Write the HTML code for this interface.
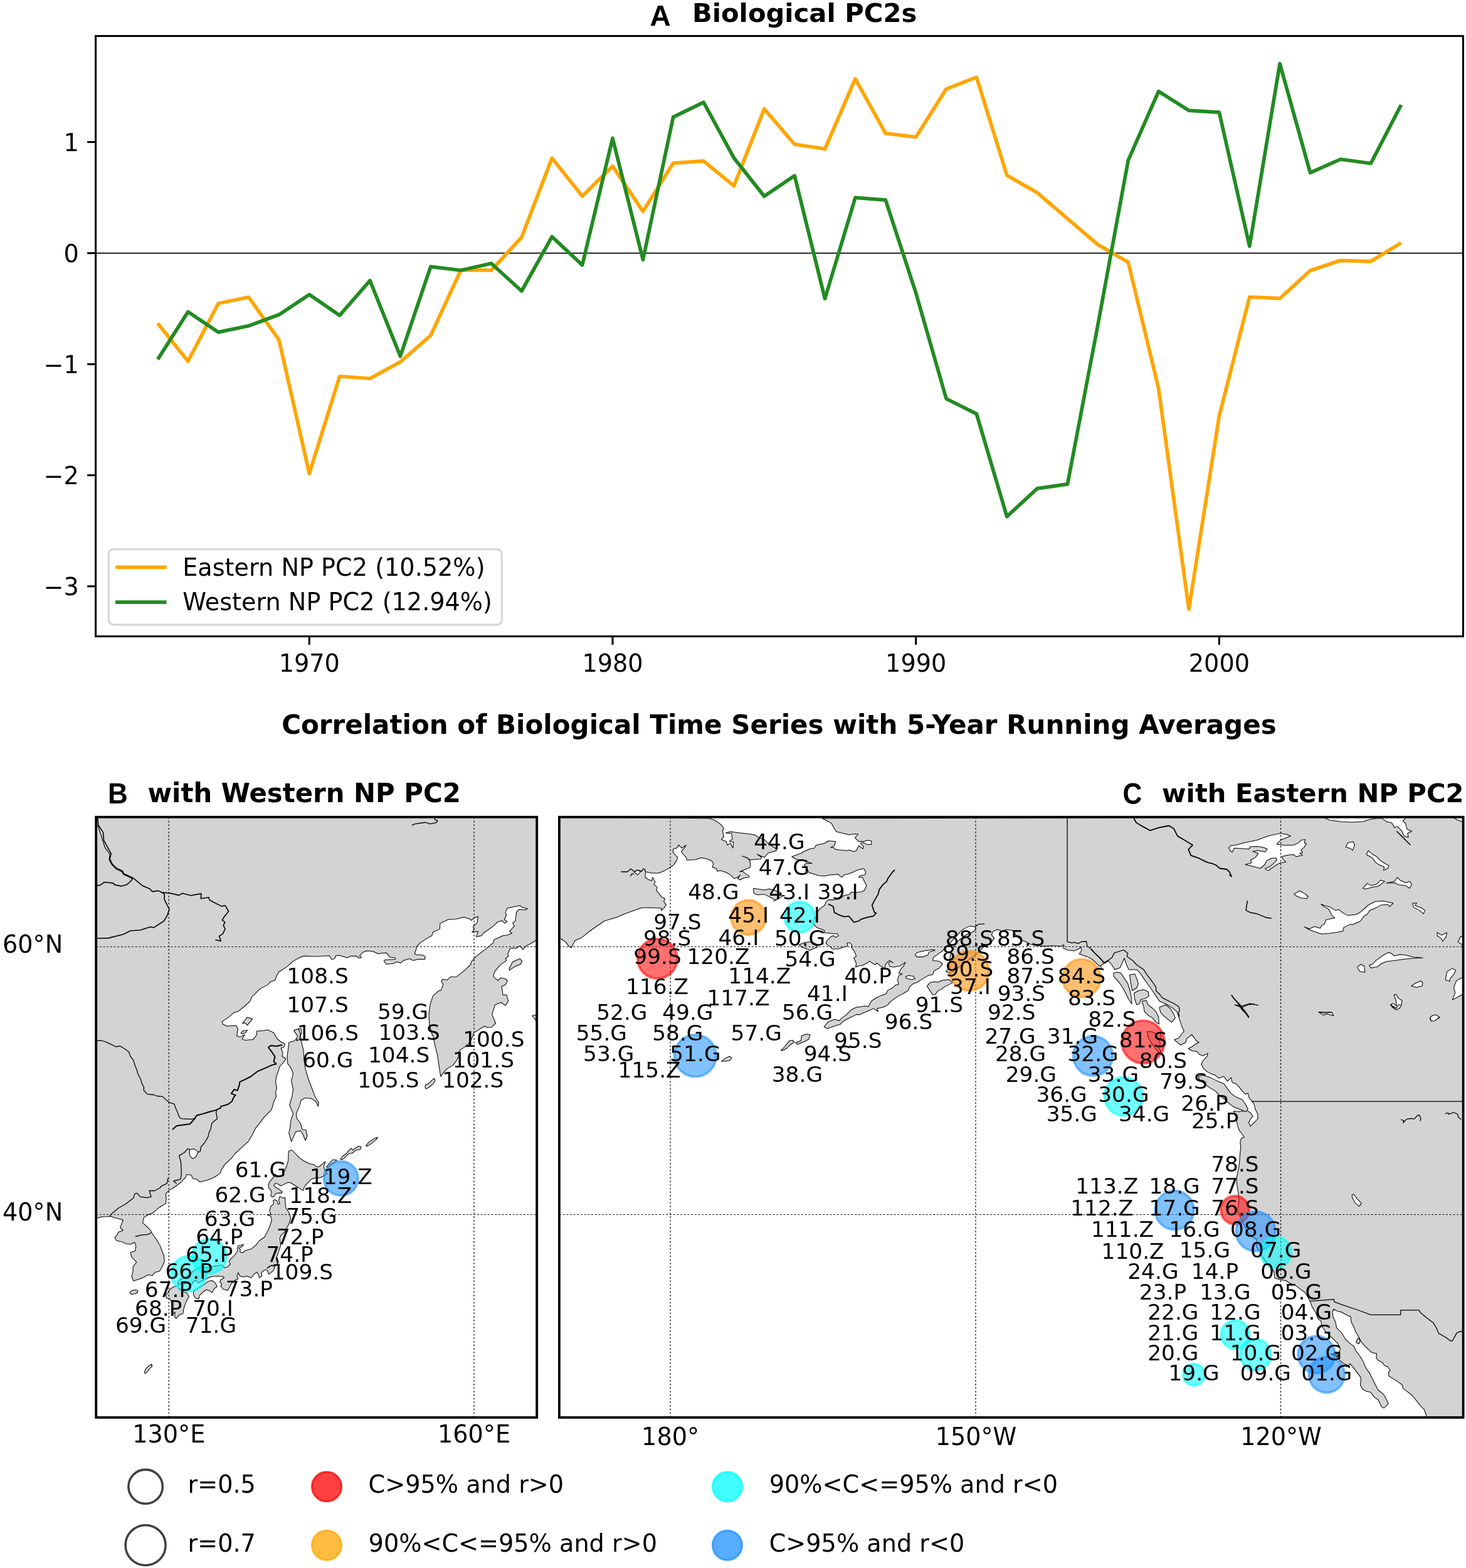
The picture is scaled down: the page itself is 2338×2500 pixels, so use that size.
<!DOCTYPE html>
<html lang="en"><head><meta charset="utf-8"><title>Biological PC2s</title>
<style>html,body{margin:0;padding:0;background:#fff}svg{display:block}</style></head>
<body>
<svg xmlns="http://www.w3.org/2000/svg" width="2338" height="2500" viewBox="0 0 2338 2500">
<rect x="0" y="0" width="2338" height="2500" fill="#ffffff"/>
<g font-family='&quot;DejaVu Sans&quot;, &quot;Liberation Sans&quot;, sans-serif' fill="#000">
<line x1="152.6" y1="403.6" x2="2333.4" y2="403.6" stroke="#000" stroke-width="1.9"/>
<path d="M251.5 515.5 L299.8 576.0 L348.2 483.8 L396.6 473.8 L444.9 541.9 L493.3 755.0 L541.7 600.0 L590.0 603.5 L638.4 577.1 L686.8 534.9 L735.1 430.3 L783.5 431.0 L831.9 378.2 L880.3 252.1 L928.6 312.8 L977.0 265.0 L1025.4 337.0 L1073.7 260.1 L1122.1 256.7 L1170.5 296.4 L1218.8 173.6 L1267.2 230.0 L1315.6 237.5 L1364.0 125.6 L1412.3 212.6 L1460.7 218.5 L1509.1 141.9 L1557.4 123.1 L1605.8 279.4 L1654.2 307.3 L1702.5 348.6 L1750.9 390.0 L1799.3 418.1 L1847.7 619.4 L1896.0 971.2 L1944.4 663.3 L1992.8 473.5 L2041.1 475.8 L2089.5 431.5 L2137.9 415.3 L2186.2 416.8 L2234.6 387.1" fill="none" stroke="#ffa500" stroke-width="5.73" stroke-linejoin="round" stroke-linecap="butt"/>
<path d="M251.5 573.0 L299.8 497.2 L348.2 529.6 L396.6 519.5 L444.9 501.8 L493.3 469.7 L541.7 502.8 L590.0 447.3 L638.4 568.0 L686.8 425.2 L735.1 431.0 L783.5 420.0 L831.9 464.0 L880.3 377.3 L928.6 422.6 L977.0 220.4 L1025.4 414.0 L1073.7 186.7 L1122.1 163.2 L1170.5 251.9 L1218.8 312.9 L1267.2 280.2 L1315.6 476.2 L1364.0 315.2 L1412.3 318.8 L1460.7 467.2 L1509.1 635.7 L1557.4 659.9 L1605.8 823.6 L1654.2 778.8 L1702.5 771.8 L1750.9 518.0 L1799.3 255.6 L1847.7 145.6 L1896.0 176.2 L1944.4 179.1 L1992.8 392.5 L2041.1 101.5 L2089.5 275.3 L2137.9 254.0 L2186.2 260.5 L2234.6 167.3" fill="none" stroke="#228b22" stroke-width="5.73" stroke-linejoin="round" stroke-linecap="butt"/>
<rect x="173.3" y="875.8" width="627" height="120.3" rx="7.6" ry="7.6" fill="#fff" fill-opacity="0.8" stroke="#cccccc" stroke-opacity="0.8" stroke-width="3.06"/>
<line x1="184.1" y1="904.4" x2="265.6" y2="904.4" stroke="#ffa500" stroke-width="5.73"/>
<line x1="184.1" y1="960.2" x2="265.6" y2="960.2" stroke="#228b22" stroke-width="5.73"/>
<text x="291.2" y="917.6" font-size="38.19">Eastern NP PC2 (10.52%)</text>
<text x="291.2" y="973.4" font-size="38.19">Western NP PC2 (12.94%)</text>
<rect x="152.6" y="57.4" width="2180.8" height="957.2" fill="none" stroke="#000" stroke-width="3.06"/>
<line x1="493.3" y1="1014.6" x2="493.3" y2="1028.0" stroke="#000" stroke-width="3.06"/>
<text x="493.3" y="1070.5" font-size="38.19" text-anchor="middle">1970</text>
<line x1="977.0" y1="1014.6" x2="977.0" y2="1028.0" stroke="#000" stroke-width="3.06"/>
<text x="977.0" y="1070.5" font-size="38.19" text-anchor="middle">1980</text>
<line x1="1460.7" y1="1014.6" x2="1460.7" y2="1028.0" stroke="#000" stroke-width="3.06"/>
<text x="1460.7" y="1070.5" font-size="38.19" text-anchor="middle">1990</text>
<line x1="1944.4" y1="1014.6" x2="1944.4" y2="1028.0" stroke="#000" stroke-width="3.06"/>
<text x="1944.4" y="1070.5" font-size="38.19" text-anchor="middle">2000</text>
<line x1="139.2" y1="226.5" x2="152.6" y2="226.5" stroke="#000" stroke-width="3.06"/>
<text x="125.9" y="241.0" font-size="38.19" text-anchor="end">1</text>
<line x1="139.2" y1="403.6" x2="152.6" y2="403.6" stroke="#000" stroke-width="3.06"/>
<text x="125.9" y="418.1" font-size="38.19" text-anchor="end">0</text>
<line x1="139.2" y1="580.7" x2="152.6" y2="580.7" stroke="#000" stroke-width="3.06"/>
<text x="125.9" y="595.2" font-size="38.19" text-anchor="end">−1</text>
<line x1="139.2" y1="757.7" x2="152.6" y2="757.7" stroke="#000" stroke-width="3.06"/>
<text x="125.9" y="772.2" font-size="38.19" text-anchor="end">−2</text>
<line x1="139.2" y1="934.8" x2="152.6" y2="934.8" stroke="#000" stroke-width="3.06"/>
<text x="125.9" y="949.3" font-size="38.19" text-anchor="end">−3</text>
<text transform="translate(1036.6,40.7) scale(1.0,1)" font-family="&quot;Liberation Sans&quot;, &quot;DejaVu Sans&quot;, sans-serif" font-size="46" font-weight="bold">A</text>
<text x="1103.9" y="34.9" font-size="41.7" font-weight="bold">Biological PC2s</text>
<text x="1242.4" y="1170.3" font-size="42" font-weight="bold" text-anchor="middle">Correlation of Biological Time Series with 5-Year Running Averages</text>
<text transform="translate(172.1,1280.8) scale(0.957,1)" font-family="&quot;Liberation Sans&quot;, &quot;DejaVu Sans&quot;, sans-serif" font-size="46" font-weight="bold">B</text>
<text x="235.4" y="1279.3" font-size="41.85" font-weight="bold">with Western NP PC2</text>
<text transform="translate(1790.6,1281.6) scale(0.89,1)" font-family="&quot;Liberation Sans&quot;, &quot;DejaVu Sans&quot;, sans-serif" font-size="48" font-weight="bold">C</text>
<text x="2334.5" y="1279.3" font-size="41.7" font-weight="bold" text-anchor="end">with Eastern NP PC2</text>
<clipPath id="cpB"><rect x="153.2" y="1302.7" width="703.0" height="957.3"/></clipPath>
<g clip-path="url(#cpB)">
<g fill="#d3d3d3" stroke="#000" stroke-width="1.05" stroke-linejoin="round">
<path d="M153.4 1302.7 L856.2 1302.7 L856.3 1499.5 L854.4 1499.5 L846.6 1504.3 L838.9 1508.2 L834.1 1514.0 L829.2 1508.2 L822.4 1512.0 L813.7 1512.0 L809.8 1520.8 L810.8 1524.6 L806.0 1528.5 L807.9 1531.4 L801.1 1535.9 L794.4 1542.1 L788.5 1549.8 L786.6 1556.6 L790.5 1560.5 L794.4 1563.4 L798.2 1559.1 L806.0 1560.5 L809.5 1563.8 L806.0 1570.1 L800.2 1572.7 L802.1 1586.6 L807.9 1586.2 L810.8 1596.3 L806.0 1603.1 L799.2 1598.2 L789.5 1602.1 L784.7 1617.6 L790.5 1631.5 L783.7 1637.9 L776.9 1638.3 L773.1 1636.0 L755.6 1646.6 L755.6 1647.7 L751.7 1657.4 L745.0 1667.1 L735.3 1672.9 L732.4 1675.8 L731.4 1684.5 L728.5 1690.3 L722.7 1698.1 L713.0 1703.9 L705.3 1712.6 L702.9 1716.5 L701.4 1707.8 L699.5 1694.2 L697.5 1681.6 L693.7 1667.1 L690.7 1651.6 L688.8 1648.6 L684.9 1633.1 L684.0 1617.6 L686.3 1600.2 L690.7 1587.6 L699.5 1579.8 L703.3 1578.9 L706.8 1569.2 L703.7 1564.3 L706.2 1561.4 L713.0 1562.4 L718.8 1557.6 L728.5 1557.2 L740.1 1547.9 L750.8 1537.8 L751.7 1533.4 L759.5 1524.6 L771.1 1515.9 L786.6 1503.3 L787.6 1498.5 L802.1 1491.7 L809.8 1490.7 L816.6 1487.8 L812.7 1484.9 L820.5 1476.2 L817.6 1471.4 L821.9 1468.5 L823.4 1454.9 L827.3 1450.1 L837.9 1450.7 L841.2 1448.7 L833.1 1446.8 L829.2 1443.7 L808.9 1448.1 L806.0 1454.9 L807.5 1458.8 L804.4 1466.2 L808.9 1469.4 L805.0 1472.0 L801.1 1468.1 L794.4 1469.4 L786.6 1476.6 L771.1 1487.8 L768.2 1491.7 L759.5 1493.7 L762.4 1484.9 L752.7 1486.3 L755.6 1483.0 L754.7 1477.2 L761.0 1471.4 L762.4 1461.1 L756.0 1463.6 L751.7 1467.5 L749.8 1465.6 L740.1 1462.3 L726.6 1465.6 L715.0 1466.0 L701.8 1472.4 L701.4 1481.1 L690.7 1486.3 L688.8 1491.7 L680.1 1496.6 L670.4 1502.9 L664.6 1509.1 L663.6 1514.0 L661.1 1520.8 L664.6 1522.3 L674.3 1522.7 L678.2 1525.6 L677.2 1529.5 L666.5 1529.5 L658.8 1531.4 L653.0 1528.5 L643.3 1531.4 L639.4 1535.3 L631.7 1533.4 L627.8 1536.3 L615.8 1537.2 L612.3 1531.4 L614.3 1530.4 L630.7 1529.5 L629.7 1527.0 L622.0 1526.2 L616.2 1519.2 L608.4 1519.8 L603.6 1520.8 L594.9 1516.9 L585.2 1515.9 L579.4 1517.9 L573.6 1523.7 L576.5 1527.0 L572.6 1527.5 L567.8 1524.2 L558.1 1524.6 L554.2 1527.0 L540.7 1523.1 L534.9 1524.2 L533.9 1528.5 L529.0 1529.5 L525.2 1523.7 L511.6 1524.6 L500.0 1525.0 L494.7 1524.6 L484.1 1524.2 L477.3 1527.0 L467.6 1532.4 L457.9 1541.1 L444.4 1549.8 L440.5 1557.6 L438.5 1563.0 L431.8 1564.9 L426.9 1570.1 L414.3 1576.9 L407.6 1583.7 L401.7 1589.5 L398.8 1596.3 L389.2 1605.0 L380.4 1612.2 L372.7 1614.7 L364.0 1622.4 L354.3 1628.6 L355.3 1633.1 L362.0 1636.0 L376.6 1635.0 L379.5 1640.8 L377.5 1651.6 L382.4 1653.6 L390.1 1649.7 L386.3 1656.5 L390.1 1658.4 L403.7 1657.4 L409.5 1649.7 L409.5 1643.9 L421.1 1642.9 L426.9 1641.9 L436.6 1646.8 L442.4 1656.5 L448.2 1661.3 L454.4 1664.2 L453.1 1669.0 L448.2 1671.0 L451.1 1678.7 L450.2 1684.5 L456.0 1688.0 L452.1 1694.2 L446.3 1700.0 L444.4 1705.8 L440.5 1717.5 L439.5 1725.2 L441.4 1734.9 L439.5 1740.7 L440.5 1748.4 L436.6 1756.2 L434.7 1763.9 L432.7 1769.7 L421.1 1781.4 L415.3 1789.1 L407.6 1798.8 L401.7 1810.4 L395.9 1820.1 L384.3 1830.7 L374.6 1839.5 L368.8 1847.2 L359.1 1855.9 L353.3 1864.6 L351.4 1870.4 L341.7 1877.2 L330.1 1881.7 L318.5 1884.4 L313.6 1880.1 L307.8 1879.2 L304.9 1873.4 L298.1 1872.4 L295.2 1878.2 L288.5 1885.0 L283.6 1888.8 L276.8 1893.7 L270.1 1897.6 L264.3 1903.4 L265.2 1911.1 L264.3 1918.9 L254.6 1924.7 L243.0 1934.4 L237.1 1936.3 L229.4 1941.1 L227.5 1949.8 L233.3 1954.7 L240.0 1961.5 L243.0 1967.3 L248.8 1975.0 L255.5 1986.6 L260.4 2000.0 L261.4 2000.7 L262.3 2011.3 L258.4 2020.0 L254.6 2026.8 L246.8 2028.7 L243.0 2033.6 L235.2 2032.6 L229.4 2036.5 L221.7 2039.4 L212.9 2042.3 L210.0 2035.5 L212.0 2027.8 L212.0 2020.0 L217.8 2012.3 L210.0 2004.5 L208.1 1996.8 L215.8 1994.4 L216.8 1986.6 L214.9 1980.8 L208.1 1983.7 L200.3 1982.8 L194.5 1979.9 L185.8 1977.9 L182.9 1973.1 L186.8 1969.2 L188.7 1964.4 L196.5 1961.5 L191.6 1957.6 L194.5 1949.8 L196.5 1945.0 L188.7 1943.1 L181.0 1941.1 L176.1 1939.2 L169.4 1939.8 L161.6 1940.2 L154.8 1942.1 L153.4 1942.0Z"/>
<path d="M477.3 1640.0 L475.3 1645.8 L477.3 1651.6 L469.5 1659.4 L460.8 1662.3 L459.8 1671.0 L457.9 1684.5 L458.9 1696.2 L463.7 1702.0 L467.6 1711.7 L464.7 1723.3 L467.6 1736.8 L465.7 1748.4 L461.8 1762.0 L467.6 1775.6 L463.7 1787.2 L462.7 1796.9 L460.8 1806.5 L464.7 1820.1 L471.5 1804.6 L479.2 1802.7 L483.1 1808.5 L487.0 1818.2 L489.9 1811.4 L487.9 1801.7 L482.1 1800.7 L479.2 1791.0 L473.4 1783.3 L472.4 1775.6 L477.3 1763.9 L480.2 1754.3 L487.0 1750.4 L496.6 1751.4 L504.4 1757.2 L507.3 1763.9 L508.3 1758.1 L502.4 1748.4 L496.6 1733.0 L490.8 1717.5 L487.0 1703.9 L485.0 1690.3 L484.1 1674.9 L481.1 1663.2 L479.2 1651.6 L481.1 1645.8 L480.2 1640.0Z"/>
<path d="M459.9 1840.0 L459.9 1849.7 L457.5 1857.8 L455.0 1864.2 L452.6 1869.9 L449.4 1873.9 L442.9 1874.7 L438.1 1872.3 L436.5 1876.3 L430.0 1884.4 L428.1 1888.4 L428.4 1893.3 L431.6 1897.3 L433.3 1901.3 L431.6 1906.2 L434.1 1908.6 L437.3 1907.0 L439.7 1902.9 L444.6 1902.1 L449.4 1902.1 L450.2 1900.5 L444.6 1895.7 L439.7 1893.3 L436.5 1890.0 L438.9 1886.8 L442.9 1887.6 L447.8 1890.8 L452.6 1888.4 L459.1 1885.2 L463.9 1886.0 L470.4 1890.0 L476.8 1894.1 L483.3 1898.1 L485.7 1891.6 L491.4 1885.2 L496.2 1880.3 L502.6 1877.9 L509.1 1877.9 L513.9 1876.3 L518.8 1873.1 L522.0 1871.5 L518.8 1867.4 L517.2 1863.4 L516.4 1859.4 L518.8 1852.1 L514.7 1855.3 L509.1 1860.2 L504.3 1860.2 L501.0 1856.9 L493.0 1855.3 L484.9 1851.3 L476.8 1845.6 L472.0 1840.0 L465.5 1833.5 L460.7 1835.2Z"/>
<path d="M520.4 1861.0 L525.2 1854.5 L530.9 1848.9 L537.3 1849.7 L534.9 1852.1 L528.5 1856.1 L523.6 1861.0Z"/>
<path d="M543.0 1848.2 L546.5 1843.3 L552.3 1839.5 L555.2 1835.6 L560.0 1830.7 L562.0 1833.7 L567.8 1829.8 L572.6 1827.5 L575.9 1828.8 L574.6 1832.7 L567.8 1833.7 L562.0 1838.5 L556.2 1839.5 L550.3 1845.3 L545.5 1849.1Z"/>
<path d="M583.7 1826.9 L588.1 1821.1 L596.8 1815.3 L602.6 1813.3 L598.8 1818.2 L590.0 1824.9 L585.2 1827.5Z"/>
<path d="M678.2 1730.0 L683.0 1728.1 L688.8 1722.3 L692.7 1719.4 L694.0 1723.3 L690.7 1728.1 L684.9 1733.0 L680.5 1735.9 L678.2 1734.9Z"/>
<path d="M811.8 1545.0 L817.6 1533.4 L829.2 1528.5 L832.7 1532.4 L830.2 1537.2 L819.5 1542.1 L812.7 1546.9Z"/>
<path d="M848.6 1619.5 L854.8 1618.0 L854.8 1627.3 L851.5 1623.0Z"/>
<path d="M386.6 1631.5 L394.4 1621.9 L402.7 1624.4 L394.4 1634.6 L391.1 1631.1Z"/>
<path d="M384.3 1646.6 L387.2 1643.7 L394.4 1642.4 L392.1 1646.6 L385.3 1648.6Z"/>
<path d="M468.6 1642.9 L475.3 1640.0 L479.2 1647.7 L477.3 1657.4 L473.0 1659.4 L474.4 1651.6Z"/>
<path d="M435.7 1914.2 L438.1 1912.6 L442.1 1915.0 L443.3 1919.9 L446.2 1919.1 L444.6 1914.2 L445.4 1908.6 L447.8 1907.8 L451.0 1910.2 L454.6 1909.4 L455.0 1917.5 L455.8 1925.5 L459.1 1930.4 L462.3 1936.8 L463.6 1943.3 L460.7 1951.4 L458.3 1956.2 L452.6 1965.9 L448.6 1969.1 L446.2 1973.9 L447.8 1985.2 L444.6 1994.9 L440.5 2006.2 L442.9 2015.9 L441.4 2003.8 L444.2 2012.2 L441.4 2016.4 L435.8 2017.1 L430.2 2018.5 L426.0 2022.0 L428.8 2020.6 L433.0 2017.1 L438.6 2020.6 L435.8 2026.2 L428.8 2031.7 L426.0 2024.8 L421.8 2024.8 L416.9 2029.0 L417.6 2034.5 L413.4 2037.3 L412.0 2031.7 L409.2 2028.3 L405.0 2031.7 L400.8 2037.3 L393.8 2034.5 L388.3 2035.9 L382.7 2034.5 L379.9 2029.0 L377.8 2034.5 L379.9 2038.7 L374.3 2041.5 L368.7 2047.1 L365.9 2052.7 L363.1 2057.6 L356.1 2055.5 L351.9 2050.6 L354.0 2047.1 L350.5 2044.3 L351.9 2040.8 L357.5 2037.3 L356.1 2035.2 L346.3 2034.5 L337.9 2035.2 L332.3 2037.3 L329.5 2038.7 L322.5 2041.5 L316.9 2045.7 L312.7 2041.5 L308.5 2042.9 L305.7 2048.5 L301.5 2045.7 L295.9 2047.1 L289.0 2045.7 L284.8 2048.5 L283.4 2045.0 L286.2 2040.8 L293.1 2037.3 L300.1 2033.8 L305.7 2029.0 L311.3 2024.1 L318.3 2020.6 L330.9 2020.6 L343.5 2018.5 L354.7 2017.1 L357.5 2021.3 L363.1 2019.9 L367.3 2015.7 L365.2 2010.8 L368.7 2006.6 L374.3 2001.0 L379.2 1994.0 L378.5 1989.8 L379.9 1986.3 L388.3 1984.2 L386.9 1987.0 L381.3 1989.8 L383.4 1991.9 L382.7 1996.1 L386.9 1997.5 L391.0 1994.0 L400.8 1991.2 L407.8 1985.6 L412.0 1980.0 L413.9 1978.0 L422.0 1972.3 L425.2 1965.9 L430.0 1956.2 L433.3 1944.9 L431.6 1938.4 L426.8 1937.6 L431.6 1935.2 L430.0 1930.4 L431.6 1923.9 L436.5 1919.1Z"/>
<path d="M308.5 2059.7 L312.7 2055.5 L319.7 2051.3 L326.7 2047.1 L332.3 2042.9 L337.9 2041.5 L343.5 2045.7 L346.3 2051.3 L342.1 2054.1 L337.9 2061.1 L335.1 2058.3 L329.5 2056.2 L323.9 2059.7 L318.3 2065.3 L316.9 2070.9 L311.3 2069.5 L308.5 2063.9Z"/>
<path d="M270.1 2056.2 L276.4 2052.0 L283.4 2049.9 L286.2 2055.5 L293.1 2059.7 L297.3 2061.1 L301.5 2066.7 L298.7 2072.3 L295.9 2077.9 L293.1 2086.3 L291.7 2094.7 L286.2 2096.1 L280.6 2102.4 L278.5 2098.9 L279.2 2091.9 L275.0 2096.1 L273.6 2089.1 L275.0 2077.9 L270.8 2070.9 L265.2 2069.5 L264.5 2063.9 L268.0 2061.1Z"/>
<path d="M207.1 2060.7 L210.0 2057.8 L215.8 2056.4 L219.7 2057.8 L219.3 2060.7 L214.9 2063.0 L209.1 2063.6Z"/>
<path d="M230.4 2187.5 L232.3 2182.7 L237.1 2177.9 L242.0 2175.3 L242.6 2178.4 L238.1 2182.7 L234.2 2188.1 L231.3 2189.9Z"/>
</g>
<g fill="#ffffff" stroke="#000" stroke-width="1.05" stroke-linejoin="round">
<path d="M303.0 1832.7 L308.8 1831.7 L315.6 1835.6 L314.2 1841.4 L311.7 1845.3 L306.9 1847.2 L303.0 1843.3 L302.0 1836.6Z"/>
</g>
<g fill="none" stroke="#000" stroke-linejoin="round">
<path d="M155.8 1303.9 L156.8 1315.5 L164.5 1327.1 L165.5 1339.7 L171.3 1350.3 L177.1 1361.0 L175.2 1369.7 L179.0 1377.5 L185.8 1384.2 L195.5 1388.7 L197.4 1393.0 L212.0 1399.7 L227.5 1412.3 L239.1 1417.2 L243.0 1421.6 L252.6 1420.1 L258.4 1423.0 L262.3 1425.9 L261.9 1433.6 L270.1 1450.1 L266.2 1460.7 L261.4 1468.5 L244.9 1479.1 L240.0 1477.8 L223.6 1483.0 L208.1 1484.0 L196.5 1489.8 L173.2 1495.6 L154.8 1496.0" stroke-width="1.6"/>
<path d="M155.8 1315.5 L161.6 1332.9 L167.4 1351.3 L175.2 1362.0 L174.2 1370.7 L178.1 1378.4 L184.9 1385.2 L194.5 1390.0 L196.5 1393.9 L211.0 1400.7" stroke-width="1.2"/>
<path d="M154.8 1411.9 L159.7 1411.4 L166.5 1406.5 L181.0 1408.1 L182.0 1410.4 L192.6 1412.9 L202.3 1410.4 L208.1 1405.5 L212.0 1399.7" stroke-width="1.6"/>
<path d="M258.4 1423.0 L270.1 1423.9 L285.6 1427.4 L291.0 1424.3 L304.0 1427.8 L320.8 1424.9 L320.4 1432.7 L333.0 1430.7 L334.0 1434.6 L336.9 1436.5 L353.3 1444.9 L359.1 1443.7 L364.6 1453.0 L361.5 1456.9 L358.2 1460.7 L354.3 1466.9 L358.8 1470.4 L356.2 1475.3 L359.1 1481.1 L355.3 1488.8 L349.5 1492.7 L352.4 1500.4 L343.3 1498.5" stroke-width="1.6"/>
<path d="M656.9 1315.9 L660.7 1313.9 L678.2 1311.2 L685.9 1313.6 L695.6 1311.6 L697.9 1308.7 L693.7 1306.8 L692.7 1304.8" stroke-width="1.4"/>
<path d="M154.8 1659.4 L161.6 1659.0 L169.4 1661.3 L177.1 1665.2 L184.9 1669.0 L191.6 1667.7 L198.4 1672.0 L205.2 1676.8 L208.1 1684.5 L212.9 1690.3 L214.9 1698.1 L218.7 1706.8 L219.7 1711.7 L224.6 1721.3 L226.5 1728.1 L229.4 1733.0 L229.4 1738.8 L235.2 1744.6 L244.9 1745.5 L250.7 1747.5 L259.4 1748.4 L264.3 1753.3 L270.1 1757.7 L277.8 1760.1 L280.1 1766.8 L283.2 1773.6 L285.6 1780.4 L289.4 1783.7 L304.9 1784.3 L309.8 1783.3" stroke-width="1.3"/>
<path d="M274.9 1801.1 L281.7 1794.9 L303.0 1792.0 L310.7 1783.3 L313.6 1778.5 L324.3 1775.6 L332.0 1773.2 L343.7 1770.1 L351.4 1766.8 L352.4 1763.9 L363.0 1761.0 L369.8 1756.2 L372.7 1749.4 L375.6 1746.1 L368.8 1743.6 L373.7 1736.8 L378.5 1738.8 L381.4 1731.0 L382.4 1725.2 L390.1 1721.3 L399.8 1716.5 L411.4 1707.8 L423.1 1702.9 L433.7 1698.1 L440.5 1696.2 L436.6 1692.3 L438.5 1684.5 L431.8 1674.9 L427.9 1670.0 L431.8 1667.1 L440.5 1668.1 L450.2 1666.1" stroke-width="2.0"/>
<path d="M345.6 1770.1 L344.6 1773.6 L346.6 1783.3 L337.8 1791.0 L335.9 1800.7 L333.0 1806.5 L332.0 1812.4 L326.2 1822.0 L320.4 1828.8 L319.4 1835.6 L315.6 1837.5" stroke-width="1.3"/>
<path d="M303.0 1832.7 L299.1 1831.7 L294.3 1837.5 L285.6 1842.4 L288.5 1853.0 L289.4 1872.4 L287.9 1880.1 L276.8 1883.0 L281.7 1886.9" stroke-width="1.3"/>
<path d="M268.1 1878.2 L266.2 1886.9 L256.5 1891.7 L255.5 1893.7 L246.8 1898.5 L238.1 1898.5 L241.0 1908.2 L235.2 1909.6 L223.6 1908.2 L218.7 1902.4 L214.9 1903.4 L212.9 1910.1 L200.3 1919.8 L188.7 1926.2 L177.1 1936.3 L175.2 1939.2" stroke-width="1.3"/>
<path d="M215.8 1971.5 L225.5 1969.2 L236.2 1968.2 L241.0 1965.3" stroke-width="1.3"/>
</g>
<g stroke="#000" stroke-width="1.15" stroke-dasharray="2.84 2.84" fill="none">
<line x1="269.3" y1="2260.0" x2="269.3" y2="1302.7"/>
<line x1="756.0" y1="2260.0" x2="756.0" y2="1302.7"/>
<line x1="153.2" y1="1509.5" x2="856.2" y2="1509.5"/>
<line x1="153.2" y1="1936.5" x2="856.2" y2="1936.5"/>
</g>
<circle cx="543.8" cy="1878.8" r="27.4" fill="#1e90ff" fill-opacity="0.56" stroke="#1e90ff" stroke-opacity="0.56" stroke-width="3.8"/>
<circle cx="333.8" cy="2003.2" r="27.6" fill="#00ffff" fill-opacity="0.56" stroke="#00ffff" stroke-opacity="0.56" stroke-width="3.8"/>
<circle cx="301.2" cy="2030.7" r="28.1" fill="#00ffff" fill-opacity="0.56" stroke="#00ffff" stroke-opacity="0.56" stroke-width="3.8"/>
</g>
<g font-size="34.375" text-anchor="middle">
<text x="642.6" y="1624.7">59.G</text>
<text x="522.8" y="1702.4">60.G</text>
<text x="415.4" y="1877.3">61.G</text>
<text x="383.1" y="1917.1">62.G</text>
<text x="366.5" y="1955.4">63.G</text>
<text x="349.9" y="1983.8">64.P</text>
<text x="333.8" y="2011.9">65.P</text>
<text x="301.2" y="2039.4">66.P</text>
<text x="268.5" y="2067.5">67.P</text>
<text x="252.8" y="2097.5">68.P</text>
<text x="224.6" y="2125.0">69.G</text>
<text x="339.6" y="2097.5">70.I</text>
<text x="336.4" y="2125.0">71.G</text>
<text x="478.7" y="1983.8">72.P</text>
<text x="397.4" y="2067.2">73.P</text>
<text x="462.1" y="2012.2">74.P</text>
<text x="497.0" y="1950.7">75.G</text>
<text x="787.3" y="1669.2">100.S</text>
<text x="770.8" y="1702.4">101.S</text>
<text x="754.2" y="1734.3">102.S</text>
<text x="652.6" y="1658.1">103.S</text>
<text x="636.1" y="1694.1">104.S</text>
<text x="619.5" y="1734.3">105.S</text>
<text x="522.8" y="1658.6">106.S</text>
<text x="506.6" y="1614.1">107.S</text>
<text x="506.6" y="1567.5">108.S</text>
<text x="481.9" y="2039.9">109.S</text>
<text x="511.3" y="1917.6">118.Z</text>
<text x="543.8" y="1887.5">119.Z</text>
</g>
<rect x="153.2" y="1302.7" width="703.0" height="957.3" fill="none" stroke="#000" stroke-width="3.82"/>
<clipPath id="cpC"><rect x="891.9" y="1302.7" width="1441.7" height="957.3"/></clipPath>
<g clip-path="url(#cpC)">
<g fill="#d3d3d3" stroke="#000" stroke-width="1.05" stroke-linejoin="round">
<path d="M891.9 1302.7 L1131.1 1304.8 L1139.8 1307.7 L1148.5 1313.6 L1154.3 1320.3 L1152.4 1325.2 L1154.3 1333.9 L1150.5 1338.7 L1158.2 1341.6 L1160.1 1347.4 L1165.0 1344.5 L1168.9 1352.3 L1169.8 1342.6 L1163.1 1341.6 L1167.9 1337.8 L1166.9 1329.0 L1157.2 1328.1 L1165.0 1326.1 L1180.5 1328.1 L1194.0 1329.4 L1203.7 1331.0 L1209.5 1334.9 L1219.2 1338.7 L1227.0 1346.5 L1236.6 1352.3 L1238.6 1356.2 L1225.0 1360.0 L1219.2 1366.8 L1215.3 1365.8 L1207.6 1362.0 L1214.4 1366.8 L1213.4 1369.7 L1196.0 1370.7 L1189.2 1366.8 L1183.4 1364.9 L1192.1 1367.8 L1196.0 1372.6 L1196.9 1379.4 L1196.0 1383.3 L1186.3 1387.1 L1179.5 1390.0 L1184.4 1389.1 L1188.2 1392.6 L1194.0 1395.9 L1195.0 1398.8 L1186.3 1399.7 L1180.5 1403.0 L1176.6 1400.7 L1180.5 1394.9 L1176.6 1398.8 L1170.8 1400.7 L1165.0 1394.9 L1158.2 1391.0 L1149.5 1388.1 L1143.7 1389.1 L1142.7 1385.2 L1135.9 1382.3 L1137.9 1377.5 L1135.0 1372.6 L1128.2 1369.7 L1118.5 1367.4 L1108.8 1370.7 L1095.3 1371.3 L1094.3 1366.8 L1089.5 1362.0 L1086.6 1357.1 L1091.4 1352.3 L1094.3 1347.4 L1087.5 1352.3 L1082.7 1347.4 L1078.8 1352.3 L1074.0 1353.3 L1073.0 1358.1 L1075.9 1362.0 L1080.7 1366.8 L1078.8 1372.6 L1074.0 1379.4 L1068.2 1383.3 L1060.4 1388.1 L1050.7 1392.0 L1039.1 1392.0 L1029.4 1390.0 L1029.0 1398.8 L1033.3 1401.7 L1039.1 1404.6 L1041.0 1398.8 L1044.9 1406.5 L1043.0 1410.4 L1047.8 1414.3 L1046.9 1420.1 L1050.7 1423.9 L1054.6 1429.7 L1060.4 1432.7 L1058.5 1437.5 L1062.4 1442.3 L1059.4 1447.2 L1054.6 1452.0 L1054.6 1448.1 L1037.2 1447.2 L1023.6 1447.2 L1010.1 1452.0 L994.6 1457.8 L983.0 1462.7 L973.3 1465.6 L963.6 1468.5 L953.9 1475.3 L944.2 1482.0 L936.5 1487.8 L926.8 1495.6 L917.1 1499.5 L915.2 1503.3 L911.3 1511.1 L907.4 1509.1 L902.6 1502.4 L895.8 1497.5 L891.9 1496.0Z"/>
<path d="M1311.3 1304.8 L1319.1 1308.7 L1325.9 1312.6 L1329.7 1319.4 L1333.6 1326.1 L1346.2 1329.0 L1353.9 1331.0 L1363.6 1329.4 L1368.5 1330.0 L1363.6 1335.8 L1369.4 1341.6 L1377.2 1341.6 L1384.9 1339.7 L1389.8 1340.7 L1389.8 1346.5 L1383.0 1346.5 L1377.2 1343.6 L1372.3 1344.5 L1377.2 1349.4 L1376.2 1353.3 L1369.4 1348.4 L1365.6 1356.2 L1361.7 1357.7 L1353.9 1355.2 L1351.0 1356.2 L1332.6 1354.6 L1329.7 1351.3 L1324.9 1351.3 L1330.7 1348.4 L1332.6 1341.6 L1321.0 1340.7 L1315.2 1344.5 L1301.7 1347.4 L1298.7 1352.3 L1292.0 1353.3 L1281.3 1358.1 L1278.4 1360.0 L1270.7 1362.9 L1262.9 1365.8 L1268.7 1369.7 L1282.3 1372.6 L1294.9 1376.5 L1286.2 1376.5 L1282.3 1379.4 L1287.1 1385.2 L1290.0 1391.0 L1295.8 1393.0 L1305.5 1395.9 L1315.2 1396.8 L1323.0 1394.9 L1336.5 1393.9 L1342.3 1398.8 L1346.2 1394.9 L1353.9 1393.0 L1361.7 1390.0 L1365.6 1388.1 L1374.3 1385.2 L1378.1 1385.2 L1381.0 1391.0 L1379.1 1394.9 L1372.3 1395.9 L1369.4 1398.8 L1375.2 1398.8 L1379.1 1406.5 L1382.0 1412.3 L1378.1 1420.1 L1373.3 1422.0 L1365.6 1423.0 L1357.8 1422.4 L1354.9 1425.9 L1346.2 1427.8 L1338.4 1433.6 L1328.8 1434.6 L1321.0 1434.6 L1317.1 1438.5 L1315.2 1443.3 L1307.5 1449.1 L1304.6 1453.0 L1301.7 1460.7 L1297.8 1466.5 L1296.8 1472.4 L1301.7 1478.2 L1305.5 1480.1 L1311.3 1482.0 L1315.2 1484.0 L1313.3 1486.9 L1321.0 1487.8 L1328.8 1488.8 L1335.5 1488.8 L1337.5 1491.7 L1332.6 1494.6 L1328.8 1491.7 L1324.9 1493.7 L1319.1 1499.5 L1317.1 1504.3 L1324.9 1510.1 L1326.8 1513.0 L1336.5 1513.0 L1346.2 1510.1 L1352.0 1508.2 L1351.0 1503.3 L1355.9 1503.3 L1358.8 1507.2 L1357.8 1510.1 L1363.6 1518.8 L1365.6 1524.6 L1361.7 1527.5 L1363.6 1531.4 L1365.6 1536.3 L1364.6 1542.1 L1369.4 1540.1 L1375.2 1539.2 L1383.0 1535.3 L1386.9 1532.4 L1390.7 1535.3 L1396.5 1538.2 L1398.5 1535.3 L1404.3 1540.1 L1411.1 1544.0 L1412.0 1538.2 L1415.9 1533.4 L1418.8 1531.4 L1424.6 1535.3 L1420.7 1532.4 L1416.9 1535.3 L1418.8 1541.1 L1425.6 1542.1 L1435.3 1540.1 L1441.1 1536.3 L1444.0 1534.3 L1441.1 1540.1 L1436.2 1545.9 L1433.3 1551.7 L1439.1 1552.7 L1433.3 1555.6 L1431.4 1563.4 L1433.3 1569.2 L1427.5 1571.1 L1423.7 1575.0 L1415.9 1578.9 L1413.0 1584.7 L1404.3 1587.6 L1398.5 1590.5 L1390.7 1595.3 L1386.9 1601.1 L1384.9 1605.0 L1379.1 1604.0 L1373.3 1605.0 L1365.6 1606.0 L1357.8 1609.8 L1350.1 1617.6 L1342.3 1623.4 L1338.4 1627.3 L1330.7 1625.3 L1321.0 1629.2 L1314.2 1637.0 L1319.1 1639.9 L1330.7 1636.0 L1340.4 1633.1 L1343.3 1629.2 L1350.1 1625.3 L1357.8 1621.5 L1365.6 1617.6 L1371.4 1617.6 L1377.2 1614.7 L1384.9 1611.8 L1392.7 1607.9 L1400.4 1612.7 L1398.5 1607.9 L1408.2 1606.0 L1415.9 1602.1 L1419.8 1597.3 L1427.5 1591.4 L1435.3 1586.6 L1441.1 1583.7 L1448.8 1578.9 L1450.8 1573.1 L1456.6 1568.2 L1462.4 1566.3 L1470.1 1561.4 L1479.8 1555.6 L1487.6 1553.7 L1489.5 1547.9 L1497.2 1544.0 L1501.1 1540.1 L1503.1 1536.3 L1497.2 1532.4 L1487.6 1531.4 L1488.3 1526.7 L1495.9 1521.1 L1502.9 1516.2 L1508.5 1509.9 L1515.5 1502.9 L1523.9 1494.5 L1530.9 1486.2 L1537.9 1480.6 L1546.3 1476.6 L1555.4 1477.8 L1556.1 1482.0 L1551.9 1485.5 L1543.5 1489.0 L1535.1 1494.5 L1528.1 1500.1 L1522.5 1507.1 L1518.3 1514.1 L1515.5 1523.9 L1514.1 1535.1 L1512.7 1543.5 L1508.5 1549.1 L1515.5 1551.9 L1523.9 1546.3 L1535.1 1537.9 L1546.3 1529.5 L1556.1 1522.5 L1563.1 1515.5 L1568.7 1509.9 L1577.1 1505.7 L1582.7 1500.1 L1585.5 1495.9 L1581.3 1490.3 L1584.1 1484.8 L1591.0 1482.0 L1598.0 1484.8 L1605.0 1482.0 L1614.8 1483.4 L1621.8 1493.1 L1628.8 1498.7 L1635.8 1501.5 L1644.2 1505.7 L1652.6 1507.8 L1663.8 1508.5 L1677.8 1507.8 L1691.7 1508.5 L1696.8 1506.2 L1695.9 1512.0 L1703.6 1515.0 L1713.3 1515.9 L1720.1 1513.0 L1724.0 1510.1 L1724.9 1515.0 L1723.0 1518.8 L1721.0 1520.8 L1728.8 1523.7 L1734.6 1525.6 L1740.4 1528.5 L1746.2 1533.4 L1752.0 1539.2 L1756.9 1542.1 L1754.0 1540.3 L1761.0 1536.2 L1768.0 1532.0 L1773.6 1539.0 L1777.8 1545.9 L1786.2 1543.1 L1793.1 1527.8 L1795.9 1536.2 L1800.1 1545.9 L1812.7 1545.9 L1818.3 1551.5 L1823.9 1559.9 L1830.9 1569.7 L1837.9 1579.5 L1843.5 1587.9 L1849.1 1596.3 L1858.9 1600.5 L1868.7 1606.1 L1877.1 1613.1 L1879.9 1621.5 L1882.7 1629.9 L1885.5 1638.3 L1888.3 1643.8 L1879.9 1655.0 L1872.9 1657.8 L1882.7 1666.2 L1891.0 1662.0 L1892.4 1656.4 L1900.8 1649.4 L1907.8 1659.2 L1912.0 1662.0 L1906.4 1664.8 L1900.8 1669.0 L1895.2 1671.8 L1901.3 1675.5 L1909.0 1676.5 L1912.9 1681.3 L1918.7 1683.3 L1926.5 1679.4 L1924.5 1685.2 L1918.7 1691.0 L1915.8 1696.8 L1918.7 1702.6 L1924.5 1708.4 L1930.3 1711.4 L1938.1 1714.3 L1943.9 1719.1 L1951.7 1716.2 L1957.5 1723.9 L1963.3 1718.1 L1965.2 1725.9 L1971.0 1727.8 L1976.8 1733.6 L1980.7 1739.4 L1986.5 1744.3 L1990.4 1743.3 L1992.3 1751.0 L1996.2 1754.9 L2000.1 1760.7 L2002.0 1768.5 L2005.9 1776.2 L2005.9 1784.0 L2000.1 1789.8 L1994.3 1795.6 L1991.4 1789.8 L1994.3 1784.0 L1998.1 1780.1 L1994.3 1774.3 L1988.4 1770.4 L1976.8 1772.4 L1967.1 1771.4 L1971.0 1780.1 L1973.0 1791.7 L1975.9 1801.4 L1978.8 1805.3 L1984.6 1813.0 L1979.7 1815.0 L1977.8 1820.8 L1978.8 1828.5 L1977.8 1838.2 L1976.8 1851.7 L1975.9 1859.5 L1973.9 1869.2 L1972.0 1878.9 L1973.0 1890.5 L1974.9 1902.1 L1975.9 1913.7 L1974.9 1923.4 L1973.0 1929.2 L1976.8 1937.0 L1980.7 1946.8 L1988.4 1962.3 L1996.2 1972.0 L2003.9 1975.8 L2003.9 1987.5 L2011.7 2001.0 L2019.4 2012.6 L2027.2 2020.4 L2032.0 2028.1 L2033.0 2037.8 L2040.7 2040.1 L2050.4 2041.7 L2058.2 2046.5 L2065.9 2049.4 L2073.7 2055.2 L2081.4 2061.0 L2087.2 2070.7 L2089.1 2074.6 L2093.0 2084.3 L2098.8 2094.0 L2102.7 2103.7 L2106.6 2105.6 L2108.5 2115.3 L2114.3 2123.0 L2120.1 2128.8 L2125.9 2134.6 L2133.7 2142.4 L2137.6 2150.1 L2135.6 2157.9 L2124.0 2158.8 L2131.7 2163.7 L2141.4 2173.4 L2151.1 2177.2 L2153.1 2174.3 L2158.9 2181.1 L2164.7 2188.9 L2170.5 2196.6 L2169.5 2208.2 L2172.4 2214.0 L2178.2 2217.9 L2186.0 2219.8 L2191.8 2227.6 L2197.6 2231.5 L2203.4 2243.1 L2207.3 2245.0 L2213.1 2239.2 L2214.1 2237.3 L2209.2 2227.6 L2205.3 2221.8 L2197.6 2216.0 L2193.7 2208.2 L2189.8 2200.5 L2184.0 2188.9 L2178.2 2181.1 L2174.4 2171.4 L2168.5 2161.7 L2162.7 2154.0 L2158.9 2146.3 L2151.1 2140.4 L2145.3 2134.6 L2139.5 2125.0 L2131.7 2117.2 L2129.8 2107.5 L2125.9 2099.8 L2125.0 2092.0 L2126.9 2087.2 L2131.7 2090.1 L2139.5 2092.0 L2146.6 2096.0 L2154.1 2099.3 L2154.9 2107.6 L2159.9 2117.6 L2161.6 2122.6 L2166.6 2130.9 L2170.7 2139.2 L2174.9 2144.1 L2181.5 2150.8 L2188.1 2156.6 L2195.6 2158.2 L2194.8 2164.9 L2198.1 2169.0 L2204.7 2172.4 L2208.0 2177.3 L2213.0 2179.0 L2217.2 2184.8 L2214.7 2187.3 L2214.7 2193.9 L2223.0 2198.9 L2229.6 2203.1 L2236.3 2208.0 L2237.9 2213.8 L2244.6 2218.8 L2252.9 2225.5 L2259.5 2233.8 L2264.5 2240.4 L2271.1 2247.0 L2274.4 2255.3 L2274.8 2259.5 L2333.4 2260.0 L2333.4 1302.7Z"/>
<path d="M1201.8 1416.2 L1207.6 1417.2 L1219.2 1419.1 L1227.0 1417.2 L1236.6 1420.1 L1246.3 1423.9 L1239.7 1425.9 L1251.3 1427.8 L1245.5 1430.1 L1239.7 1433.6 L1233.9 1436.5 L1240.5 1432.7 L1236.6 1435.6 L1230.8 1431.7 L1219.2 1425.9 L1207.6 1426.8 L1201.8 1423.9Z"/>
<path d="M1274.5 1506.2 L1284.2 1502.4 L1293.9 1501.4 L1301.7 1505.3 L1303.6 1510.1 L1295.8 1513.0 L1292.0 1515.3 L1284.2 1512.0 L1278.4 1510.1Z"/>
<path d="M1478.5 1572.2 L1483.4 1566.6 L1490.3 1565.2 L1495.9 1565.9 L1502.9 1563.1 L1512.7 1561.7 L1519.7 1566.6 L1512.7 1570.1 L1507.1 1572.9 L1501.5 1577.1 L1495.9 1579.9 L1491.7 1585.5 L1487.6 1586.2 L1483.4 1579.9 L1480.6 1575.7Z"/>
<path d="M1245.5 1675.2 L1251.3 1669.0 L1255.2 1664.2 L1259.0 1659.4 L1263.9 1658.4 L1266.8 1661.3 L1261.0 1665.2 L1255.2 1671.0 L1249.4 1674.5Z"/>
<path d="M1268.7 1662.3 L1277.4 1659.4 L1278.4 1651.6 L1286.2 1648.7 L1292.0 1649.7 L1290.0 1656.5 L1284.2 1660.3 L1276.5 1663.2 L1271.6 1665.2Z"/>
<path d="M1150.5 1691.9 L1157.2 1687.4 L1163.1 1684.2 L1166.9 1686.5 L1164.0 1690.7 L1157.2 1691.9Z"/>
<path d="M1775.7 1551.5 L1782.0 1550.1 L1787.6 1551.5 L1793.1 1559.9 L1798.7 1568.3 L1802.2 1579.5 L1804.3 1590.7 L1805.0 1600.5 L1800.1 1593.5 L1795.9 1585.1 L1791.7 1576.7 L1786.2 1568.3 L1780.6 1561.3 L1776.4 1557.1Z"/>
<path d="M1801.5 1554.3 L1809.9 1552.9 L1812.7 1559.9 L1815.5 1568.3 L1812.7 1575.3 L1805.7 1579.5 L1803.6 1568.3Z"/>
<path d="M1808.5 1583.7 L1815.5 1579.5 L1823.9 1578.1 L1830.9 1580.9 L1832.3 1587.9 L1826.7 1592.1 L1819.7 1593.5 L1816.9 1600.5 L1812.7 1601.9 L1809.9 1593.5Z"/>
<path d="M1821.1 1596.3 L1828.1 1594.9 L1830.9 1601.9 L1837.9 1607.5 L1843.5 1613.1 L1847.7 1621.5 L1848.4 1632.7 L1843.5 1629.9 L1837.9 1622.9 L1830.9 1618.7 L1825.3 1613.1 L1823.9 1604.7Z"/>
<path d="M1849.1 1606.1 L1858.9 1601.9 L1865.9 1607.5 L1871.5 1615.9 L1874.3 1622.9 L1868.7 1629.9 L1861.7 1624.3 L1854.7 1618.7 L1850.5 1613.1Z"/>
<path d="M1829.5 1644.5 L1837.9 1645.2 L1843.5 1648.0 L1850.5 1646.6 L1851.9 1652.2 L1849.1 1657.8 L1850.5 1664.8 L1847.7 1670.4 L1851.9 1676.0 L1849.1 1678.8 L1844.9 1674.6 L1840.7 1669.0 L1836.5 1663.4 L1832.3 1656.4 L1830.2 1650.8Z"/>
<path d="M1911.0 1716.2 L1918.7 1714.3 L1930.3 1718.1 L1942.0 1723.9 L1951.7 1727.8 L1957.5 1735.6 L1963.3 1743.3 L1971.0 1749.1 L1980.7 1753.0 L1986.5 1760.7 L1990.4 1768.5 L1986.5 1772.4 L1976.8 1768.5 L1967.1 1764.6 L1959.4 1758.8 L1953.6 1753.0 L1945.8 1747.2 L1938.1 1739.4 L1928.4 1733.6 L1920.7 1727.8 L1912.9 1722.0Z"/>
<path d="M2162.7 2140.5 L2164.9 2134.5 L2167.4 2133.4 L2169.0 2138.3 L2167.4 2142.5Z"/>
<path d="M2122.1 2158.8 L2129.8 2159.8 L2135.6 2161.7 L2131.7 2162.7Z"/>
</g>
<g fill="#ffffff" stroke="#000" stroke-width="1.05" stroke-linejoin="round">
<path d="M2112.2 1300.0 L2112.2 1304.0 L2120.9 1307.7 L2138.5 1309.9 L2156.1 1311.0 L2173.6 1309.9 L2184.6 1306.6 L2197.8 1304.4 L2204.3 1304.8 L2210.9 1309.9 L2219.7 1312.1 L2224.1 1319.8 L2228.5 1317.6 L2235.1 1324.1 L2239.5 1332.9 L2246.0 1335.1 L2244.9 1328.5 L2251.5 1325.2 L2243.8 1321.9 L2241.7 1313.2 L2237.3 1308.8 L2241.7 1304.4 L2241.7 1300.0Z"/>
<path d="M2318.5 1300.0 L2318.5 1304.0 L2325.1 1307.7 L2331.6 1309.9 L2336.0 1306.6 L2336.0 1300.0Z"/>
<path d="M1959.6 1351.6 L1962.9 1348.3 L1971.7 1347.2 L1982.7 1343.9 L1993.6 1341.7 L2004.6 1339.5 L2022.2 1332.9 L2041.9 1328.5 L2052.9 1330.7 L2058.4 1332.9 L2044.1 1338.4 L2038.6 1342.8 L2036.4 1346.1 L2048.5 1347.8 L2063.9 1347.2 L2070.5 1343.9 L2074.9 1339.5 L2081.4 1338.4 L2080.3 1343.9 L2083.6 1345.0 L2079.2 1351.6 L2074.9 1354.9 L2077.5 1359.3 L2072.7 1360.4 L2077.5 1363.6 L2067.2 1365.8 L2062.8 1362.5 L2052.9 1363.6 L2044.1 1365.8 L2046.3 1370.2 L2050.7 1374.6 L2041.9 1375.7 L2035.3 1379.0 L2027.7 1384.5 L2023.3 1387.8 L2018.9 1386.7 L2017.8 1384.5 L2024.4 1382.3 L2031.0 1376.8 L2036.4 1371.3 L2035.3 1368.0 L2027.7 1368.5 L2020.0 1372.4 L2016.7 1379.0 L2010.1 1384.5 L1998.0 1381.2 L1986.0 1378.6 L1995.8 1375.7 L1994.7 1371.3 L2002.4 1366.9 L2006.8 1360.4 L1998.0 1357.5 L2005.7 1356.0 L2017.8 1358.2 L2021.1 1353.8 L2014.5 1350.9 L2004.6 1349.4 L1993.6 1350.0 L1992.5 1353.8 L1978.3 1352.7 L1968.4 1352.2 L1965.1 1358.8 L1961.8 1356.0Z"/>
<path d="M2080.3 1477.8 L2088.0 1481.1 L2096.8 1477.3 L2105.6 1480.0 L2107.8 1475.6 L2112.2 1473.4 L2114.4 1466.8 L2123.1 1464.6 L2128.6 1463.5 L2123.1 1458.0 L2122.0 1454.7 L2118.7 1449.2 L2112.2 1445.9 L2106.7 1441.6 L2112.2 1443.8 L2120.9 1445.9 L2129.7 1451.4 L2135.2 1450.3 L2144.0 1456.9 L2149.5 1459.6 L2162.6 1458.0 L2169.2 1454.7 L2178.0 1447.0 L2182.4 1442.7 L2193.4 1437.2 L2206.5 1436.5 L2221.9 1440.0 L2216.4 1445.3 L2213.1 1442.2 L2202.1 1443.1 L2193.4 1448.1 L2184.6 1451.4 L2180.2 1458.0 L2175.8 1460.2 L2169.2 1469.0 L2156.1 1474.5 L2153.9 1473.4 L2142.9 1478.9 L2141.8 1484.4 L2131.9 1486.6 L2118.7 1488.3 L2107.8 1489.2 L2096.8 1485.5 L2088.0 1482.2Z"/>
<path d="M2183.5 1539.2 L2189.0 1537.0 L2195.6 1530.4 L2206.5 1522.8 L2214.2 1518.4 L2219.7 1520.6 L2223.0 1523.9 L2232.9 1522.1 L2241.7 1522.8 L2254.8 1526.1 L2269.1 1527.2 L2254.8 1527.8 L2239.5 1529.3 L2224.1 1531.5 L2210.9 1533.1 L2202.1 1537.0 L2196.7 1541.4 L2190.1 1542.5 L2186.8 1543.6Z"/>
<path d="M2063.9 1425.1 L2072.7 1420.3 L2081.4 1425.1 L2086.3 1429.5 L2083.6 1432.8 L2074.9 1431.7 L2067.2 1428.4Z"/>
<path d="M2164.8 1541.4 L2170.3 1537.5 L2175.8 1540.3 L2176.9 1550.2 L2169.2 1549.1 L2165.9 1544.7Z"/>
<path d="M2146.2 1350.5 L2149.5 1343.5 L2158.3 1342.1 L2160.4 1347.2 L2157.2 1356.0 L2153.9 1352.7Z"/>
<path d="M2305.3 1562.3 L2307.5 1549.1 L2316.3 1544.1 L2321.8 1546.9 L2318.5 1553.5 L2313.0 1560.1 L2311.9 1564.5Z"/>
<path d="M2250.4 1572.1 L2257.0 1567.8 L2265.8 1564.0 L2269.1 1566.7 L2268.0 1572.1 L2259.2 1574.3Z"/>
<path d="M2217.5 1601.8 L2221.9 1599.6 L2227.4 1604.0 L2226.3 1595.2 L2223.0 1586.4 L2226.3 1585.3 L2230.7 1591.9 L2236.2 1595.2 L2235.1 1601.8 L2230.7 1607.3 L2226.3 1609.5 L2220.8 1606.2Z"/>
<path d="M2280.5 1623.7 L2283.4 1620.0 L2292.1 1619.3 L2296.1 1622.2 L2289.9 1625.9 L2282.3 1628.1Z"/>
<path d="M2103.4 1613.4 L2114.4 1613.8 L2123.1 1613.8 L2126.4 1619.3 L2116.6 1616.0 L2110.0 1618.2Z"/>
<path d="M2318.5 1574.3 L2322.9 1563.4 L2331.6 1559.0 L2336.0 1559.0 L2336.0 1583.1 L2325.1 1589.7 L2316.3 1594.1 L2320.7 1583.1Z"/>
<path d="M2325.1 1501.9 L2329.4 1493.1 L2336.0 1494.2 L2336.0 1508.5Z"/>
<path d="M2179.1 1362.5 L2182.4 1356.0 L2187.9 1361.5 L2195.6 1365.8 L2202.1 1372.4 L2208.7 1376.8 L2215.3 1380.1 L2213.1 1384.5 L2206.5 1387.8 L2207.6 1382.3 L2197.8 1377.9 L2193.4 1374.6 L2189.0 1368.0Z"/>
<path d="M2173.6 1416.3 L2180.2 1408.6 L2186.8 1411.9 L2195.6 1409.7 L2202.1 1403.2 L2208.3 1405.3 L2197.8 1413.0 L2189.0 1414.6 L2178.0 1417.4Z"/>
<path d="M2210.9 1408.0 L2224.1 1405.3 L2228.5 1398.8 L2232.9 1403.2 L2241.7 1407.5 L2248.2 1405.3 L2251.5 1409.7 L2248.2 1416.3 L2241.7 1411.9 L2230.7 1410.8 L2224.1 1407.5Z"/>
<path d="M2252.6 1440.5 L2259.2 1439.4 L2257.0 1443.8 L2265.8 1447.0 L2272.4 1451.4 L2270.2 1456.9 L2263.6 1451.4 L2254.8 1446.6Z"/>
<path d="M2292.1 1486.6 L2298.7 1490.9 L2307.5 1487.0 L2306.4 1493.1 L2300.9 1500.8 L2298.7 1496.4 L2292.1 1492.0Z"/>
<path d="M1459.5 1522.7 L1462.4 1518.8 L1474.0 1515.9 L1487.6 1514.0 L1491.4 1515.0 L1481.7 1517.9 L1479.8 1522.7 L1472.1 1525.6 L1462.4 1525.6Z"/>
<path d="M1444.0 1557.6 L1448.8 1555.2 L1456.6 1556.6 L1459.5 1560.5 L1454.6 1561.8 L1446.9 1560.5Z"/>
<path d="M1011.0 1390.0 L1016.8 1387.1 L1021.7 1390.0 L1016.8 1394.9Z"/>
<path d="M2102.7 1613.6 L2112.4 1615.5 L2124.0 1613.9 L2126.9 1619.4 L2116.3 1616.5 L2110.4 1618.4Z"/>
<path d="M2156.0 1905.0 L2158.9 1904.0 L2164.7 1911.8 L2171.4 1918.6 L2167.6 1923.4 L2160.8 1917.6 L2156.9 1909.8Z"/>
<path d="M2217.9 1601.8 L2223.3 1605.4 L2227.0 1607.2 L2230.6 1601.8 L2235.1 1602.7 L2232.4 1607.2 L2227.0 1610.0Z"/>
<path d="M2280.9 1621.7 L2284.9 1619.0 L2290.4 1618.1 L2295.8 1621.7 L2292.2 1624.5 L2287.6 1628.1 L2282.2 1627.5Z"/>
</g>
<g fill="none" stroke="#000" stroke-linejoin="round">
<path d="M990.3 1390.0 L1000.4 1390.0 L1006.2 1385.2 L1012.0 1390.0 L1016.8 1387.1 L1023.6 1389.1 L1025.6 1385.2 L1028.5 1386.2 L1029.0 1390.0" stroke-width="1.3"/>
<path d="M1005.2 1396.8 L1008.1 1393.0 L1011.0 1393.9" stroke-width="1.3"/>
<path d="M1321.0 1441.4 L1328.8 1445.2 L1330.7 1454.9 L1338.4 1458.8 L1346.2 1461.7 L1353.9 1460.7 L1361.7 1470.4 L1369.4 1468.5 L1373.3 1465.6 L1383.0 1462.7 L1392.7 1460.7 L1397.5 1455.9 L1394.6 1454.9 L1390.7 1443.3 L1394.6 1435.6 L1400.4 1425.9 L1402.4 1418.1 L1408.2 1410.4 L1414.0 1405.5 L1415.9 1400.7 L1423.7 1390.0 L1427.1 1386.8" stroke-width="1.8"/>
<path d="M1555.4 1477.8 L1560.3 1473.6 L1570.1 1472.9" stroke-width="1.3"/>
<path d="M1702.1 1304.8 L1702.1 1501.4 L1709.4 1503.3 L1713.3 1502.4 L1719.1 1504.3 L1724.9 1501.4 L1732.7 1501.0 L1733.6 1508.2 L1740.4 1513.0 L1746.2 1519.8 L1754.0 1526.6 L1758.8 1532.4 L1758.8 1535.3" stroke-width="1.3"/>
<path d="M1740.0 1513.8 L1758.2 1532.0 L1761.0 1534.8 L1768.0 1530.6 L1773.6 1526.4 L1777.1 1519.4 L1791.7 1514.5 L1798.7 1520.1 L1797.3 1525.0 L1807.1 1532.0 L1812.7 1538.3 L1823.9 1545.9 L1829.5 1554.3 L1837.9 1565.5 L1843.5 1573.9 L1843.5 1579.5 L1850.5 1586.5 L1853.3 1590.7 L1861.7 1594.9 L1872.9 1600.5 L1879.9 1604.7 L1881.3 1610.3 L1879.2 1615.9 L1881.3 1620.8" stroke-width="1.3"/>
<path d="M1808.2 1304.8 L1812.1 1311.6 L1821.7 1317.4 L1834.3 1324.2 L1848.9 1319.4 L1864.4 1316.5 L1872.1 1321.3 L1877.9 1332.9 L1889.5 1339.7 L1902.1 1347.4 L1895.3 1354.2 L1899.2 1363.9 L1910.8 1367.8 L1922.4 1373.6 L1930.0 1376.5" stroke-width="1.8"/>
<path d="M1930.0 1375.7 L1938.8 1379.0 L1945.4 1384.5 L1956.3 1386.0 L1960.7 1390.0 L1964.0 1397.7 L1960.7 1394.4" stroke-width="1.8"/>
<path d="M1989.3 1436.1 L1987.1 1451.4 L1993.6 1454.7 L2004.6 1456.9 L2017.8 1462.4 L2027.7 1464.2" stroke-width="1.5"/>
<path d="M2227.4 1325.2 L2237.3 1335.1 L2249.3 1347.2" stroke-width="1.5"/>
<path d="M1964.0 1586.4 L1969.5 1594.1 L1976.1 1601.8 L1980.5 1609.5 L1987.1 1616.0 L1991.5 1622.6" stroke-width="1.5"/>
<path d="M1969.5 1602.4 L1980.5 1604.0 L1993.6 1600.2 L2006.8 1602.9" stroke-width="1.3"/>
<path d="M1996.2 1756.1 L2240.0 1756.1 L2333.4 1756.1" stroke-width="1.3"/>
<path d="M2089.1 2074.6 L2108.5 2073.1 L2127.5 2071.7 L2127.9 2075.6 L2140.0 2080.2 L2164.9 2088.5 L2186.5 2096.3 L2233.8 2096.3 L2233.8 2088.9 L2262.8 2088.9 L2266.1 2093.5 L2276.1 2101.8 L2286.1 2109.3 L2291.0 2117.6 L2294.4 2125.9 L2306.0 2132.5 L2312.6 2137.5 L2315.9 2138.3 L2320.1 2130.9 L2323.4 2125.1 L2329.2 2122.6 L2332.5 2123.4" stroke-width="1.3"/>
<path d="M1969.1 1601.9 L1976.8 1604.8 L1984.6 1611.6 L1990.4 1619.4 L1991.9 1622.3" stroke-width="1.5"/>
<path d="M2234.2 1785.1 L2238.7 1786.6 L2237.8 1790.2 L2243.3 1784.4 L2248.7 1783.3 L2255.9 1783.9 L2259.6 1779.3 L2263.2 1777.5 L2265.9 1783.0 L2265.0 1787.5" stroke-width="1.3"/>
<path d="M2304.8 1775.7 L2309.4 1774.3 L2310.3 1776.6 L2318.4 1773.5 L2324.8 1776.6 L2325.7 1781.2 L2330.2 1784.8" stroke-width="1.3"/>
<path d="M1963.8 1586.5 L1969.4 1593.5 L1976.4 1600.5 L1980.6 1606.1 L1990.3 1601.9 L2000.0 1600.5" stroke-width="1.3"/>
<path d="M1980.6 1606.1 L1986.2 1613.1 L1991.7 1621.5" stroke-width="1.3"/>
</g>
<g stroke="#000" stroke-width="1.15" stroke-dasharray="2.84 2.84" fill="none">
<line x1="1069.1" y1="2260.0" x2="1069.1" y2="1302.7"/>
<line x1="1556.0" y1="2260.0" x2="1556.0" y2="1302.7"/>
<line x1="2042.6" y1="2260.0" x2="2042.6" y2="1302.7"/>
<line x1="891.9" y1="1509.5" x2="2333.6" y2="1509.5"/>
<line x1="891.9" y1="1936.5" x2="2333.6" y2="1936.5"/>
</g>
<circle cx="1048.5" cy="1528.5" r="31.6" fill="#ff0000" fill-opacity="0.56" stroke="#ff0000" stroke-opacity="0.56" stroke-width="3.8"/>
<circle cx="1193.7" cy="1462.7" r="27.6" fill="#ff8c00" fill-opacity="0.56" stroke="#ff8c00" stroke-opacity="0.56" stroke-width="3.8"/>
<circle cx="1275.4" cy="1462.1" r="24.4" fill="#00ffff" fill-opacity="0.56" stroke="#00ffff" stroke-opacity="0.56" stroke-width="3.8"/>
<circle cx="1108.9" cy="1683.2" r="33.5" fill="#1e90ff" fill-opacity="0.56" stroke="#1e90ff" stroke-opacity="0.56" stroke-width="3.8"/>
<circle cx="1546.0" cy="1547.9" r="31.4" fill="#ff8c00" fill-opacity="0.56" stroke="#ff8c00" stroke-opacity="0.56" stroke-width="3.8"/>
<circle cx="1725.0" cy="1559.5" r="30.2" fill="#ff8c00" fill-opacity="0.56" stroke="#ff8c00" stroke-opacity="0.56" stroke-width="3.8"/>
<circle cx="1823.0" cy="1661.3" r="34.1" fill="#ff0000" fill-opacity="0.56" stroke="#ff0000" stroke-opacity="0.56" stroke-width="3.8"/>
<circle cx="1743.1" cy="1683.6" r="31.6" fill="#1e90ff" fill-opacity="0.56" stroke="#1e90ff" stroke-opacity="0.56" stroke-width="3.8"/>
<circle cx="1791.9" cy="1748.1" r="30.6" fill="#00ffff" fill-opacity="0.56" stroke="#00ffff" stroke-opacity="0.56" stroke-width="3.8"/>
<circle cx="1873.1" cy="1929.5" r="31.0" fill="#1e90ff" fill-opacity="0.56" stroke="#1e90ff" stroke-opacity="0.56" stroke-width="3.8"/>
<circle cx="1969.4" cy="1929.2" r="22.5" fill="#ff0000" fill-opacity="0.56" stroke="#ff0000" stroke-opacity="0.56" stroke-width="3.8"/>
<circle cx="2002.6" cy="1963.3" r="31.6" fill="#1e90ff" fill-opacity="0.56" stroke="#1e90ff" stroke-opacity="0.56" stroke-width="3.8"/>
<circle cx="2034.7" cy="1996.6" r="24.8" fill="#00ffff" fill-opacity="0.56" stroke="#00ffff" stroke-opacity="0.56" stroke-width="3.8"/>
<circle cx="1970.0" cy="2127.9" r="22.8" fill="#00ffff" fill-opacity="0.56" stroke="#00ffff" stroke-opacity="0.56" stroke-width="3.8"/>
<circle cx="2002.3" cy="2159.8" r="24.8" fill="#00ffff" fill-opacity="0.56" stroke="#00ffff" stroke-opacity="0.56" stroke-width="3.8"/>
<circle cx="1904.1" cy="2191.8" r="17.2" fill="#00ffff" fill-opacity="0.56" stroke="#00ffff" stroke-opacity="0.56" stroke-width="3.8"/>
<circle cx="2099.6" cy="2159.8" r="29.6" fill="#1e90ff" fill-opacity="0.56" stroke="#1e90ff" stroke-opacity="0.56" stroke-width="3.8"/>
<circle cx="2115.8" cy="2191.8" r="28.6" fill="#1e90ff" fill-opacity="0.56" stroke="#1e90ff" stroke-opacity="0.56" stroke-width="3.8"/>
</g>
<g font-size="34.375" text-anchor="middle">
<text x="2115.8" y="2200.5">01.G</text>
<text x="2099.6" y="2168.5">02.G</text>
<text x="2083.4" y="2136.6">03.G</text>
<text x="2083.4" y="2103.7">04.G</text>
<text x="2067.4" y="2071.7">05.G</text>
<text x="2051.0" y="2038.8">06.G</text>
<text x="2034.7" y="2005.3">07.G</text>
<text x="2002.6" y="1972.0">08.G</text>
<text x="2018.3" y="2200.5">09.G</text>
<text x="2002.3" y="2168.5">10.G</text>
<text x="1970.0" y="2136.6">11.G</text>
<text x="1970.0" y="2103.7">12.G</text>
<text x="1953.9" y="2071.7">13.G</text>
<text x="1937.5" y="2038.8">14.P</text>
<text x="1921.4" y="2005.3">15.G</text>
<text x="1905.1" y="1972.0">16.G</text>
<text x="1873.1" y="1938.2">17.G</text>
<text x="1873.1" y="1903.0">18.G</text>
<text x="1904.1" y="2200.5">19.G</text>
<text x="1870.8" y="2168.8">20.G</text>
<text x="1870.8" y="2136.6">21.G</text>
<text x="1870.8" y="2104.3">22.G</text>
<text x="1854.5" y="2072.3">23.P</text>
<text x="1838.9" y="2039.4">24.G</text>
<text x="1937.7" y="1798.5">25.P</text>
<text x="1921.0" y="1771.4">26.P</text>
<text x="1611.1" y="1664.2">27.G</text>
<text x="1627.6" y="1692.3">28.G</text>
<text x="1644.3" y="1724.8">29.G</text>
<text x="1791.9" y="1756.8">30.G</text>
<text x="1710.5" y="1664.2">31.G</text>
<text x="1743.1" y="1692.3">32.G</text>
<text x="1775.4" y="1724.8">33.G</text>
<text x="1824.6" y="1788.1">34.G</text>
<text x="1709.3" y="1788.1">35.G</text>
<text x="1693.1" y="1756.8">36.G</text>
<text x="1547.5" y="1584.7">37.I</text>
<text x="1271.4" y="1724.8">38.G</text>
<text x="1336.2" y="1433.6">39.I</text>
<text x="1384.2" y="1568.2">40.P</text>
<text x="1319.4" y="1595.9">41.I</text>
<text x="1275.4" y="1470.8">42.I</text>
<text x="1258.7" y="1433.6">43.I</text>
<text x="1242.9" y="1354.2">44.G</text>
<text x="1193.7" y="1471.4">45.I</text>
<text x="1177.9" y="1506.8">46.I</text>
<text x="1250.3" y="1394.5">47.G</text>
<text x="1137.9" y="1433.6">48.G</text>
<text x="1096.8" y="1626.3">49.G</text>
<text x="1275.6" y="1508.2">50.G</text>
<text x="1108.9" y="1691.9">51.G</text>
<text x="991.8" y="1626.3">52.G</text>
<text x="970.7" y="1691.9">53.G</text>
<text x="1292.1" y="1541.1">54.G</text>
<text x="959.3" y="1659.4">55.G</text>
<text x="1287.6" y="1626.3">56.G</text>
<text x="1206.2" y="1659.4">57.G</text>
<text x="1080.8" y="1659.4">58.G</text>
<text x="1969.4" y="1937.9">76.S</text>
<text x="1969.4" y="1903.1">77.S</text>
<text x="1969.4" y="1868.2">78.S</text>
<text x="1887.6" y="1735.9">79.S</text>
<text x="1854.9" y="1702.9">80.S</text>
<text x="1823.0" y="1670.0">81.S</text>
<text x="1773.4" y="1637.0">82.S</text>
<text x="1741.2" y="1602.5">83.S</text>
<text x="1725.0" y="1568.2">84.S</text>
<text x="1628.2" y="1508.2">85.S</text>
<text x="1643.7" y="1537.2">86.S</text>
<text x="1643.7" y="1568.2">87.S</text>
<text x="1545.9" y="1508.2">88.S</text>
<text x="1540.6" y="1532.4">89.S</text>
<text x="1546.0" y="1556.6">90.S</text>
<text x="1497.9" y="1613.7">91.S</text>
<text x="1613.3" y="1626.3">92.S</text>
<text x="1628.9" y="1596.3">93.S</text>
<text x="1319.9" y="1692.3">94.S</text>
<text x="1368.3" y="1671.0">95.S</text>
<text x="1449.0" y="1640.8">96.S</text>
<text x="1080.4" y="1482.0">97.S</text>
<text x="1064.2" y="1508.2">98.S</text>
<text x="1048.5" y="1537.2">99.S</text>
<text x="1806.6" y="2006.5">110.Z</text>
<text x="1790.1" y="1972.1">111.Z</text>
<text x="1757.2" y="1938.2">112.Z</text>
<text x="1765.2" y="1903.0">113.Z</text>
<text x="1211.3" y="1567.6">114.Z</text>
<text x="1035.6" y="1718.4">115.Z</text>
<text x="1048.1" y="1584.7">116.Z</text>
<text x="1177.4" y="1602.5">117.Z</text>
<text x="1145.5" y="1537.2">120.Z</text>
</g>
<rect x="891.9" y="1302.7" width="1441.7" height="957.3" fill="none" stroke="#000" stroke-width="3.82"/>
<g font-size="38.19">
<text x="4.0" y="1519.2">60°N</text>
<text x="4.0" y="1946.2">40°N</text>
<text x="269.3" y="2300.0" text-anchor="middle">130°E</text>
<text x="756.0" y="2300.0" text-anchor="middle">160°E</text>
<text x="1069.1" y="2303.9" text-anchor="middle">180°</text>
<text x="1556.5" y="2303.9" text-anchor="middle">150°W</text>
<text x="2043.0" y="2303.9" text-anchor="middle">120°W</text>
</g>
<circle cx="232.1" cy="2370.3" r="27.2" fill="none" stroke="#000" stroke-opacity="0.75" stroke-width="3.6"/>
<circle cx="232.1" cy="2463.7" r="32.0" fill="none" stroke="#000" stroke-opacity="0.75" stroke-width="3.6"/>
<circle cx="521.0" cy="2370.3" r="23.55" fill="#ff0000" fill-opacity="0.75" stroke="#ff0000" stroke-opacity="0.75" stroke-width="3.0"/>
<circle cx="521.0" cy="2463.7" r="23.55" fill="#ffa500" fill-opacity="0.75" stroke="#ffa500" stroke-opacity="0.75" stroke-width="3.0"/>
<circle cx="1160.0" cy="2370.3" r="23.55" fill="#00ffff" fill-opacity="0.75" stroke="#00ffff" stroke-opacity="0.75" stroke-width="3.0"/>
<circle cx="1160.0" cy="2463.7" r="23.55" fill="#1e90ff" fill-opacity="0.75" stroke="#1e90ff" stroke-opacity="0.75" stroke-width="3.0"/>
<g font-size="38.19">
<text x="299.5" y="2380.0">r=0.5</text>
<text x="299.5" y="2474.2">r=0.7</text>
<text x="587.6" y="2379.7">C&gt;95% and r&gt;0</text>
<text x="587.6" y="2474.0">90%&lt;C&lt;=95% and r&gt;0</text>
<text x="1226.7" y="2379.7">90%&lt;C&lt;=95% and r&lt;0</text>
<text x="1226.7" y="2474.0">C&gt;95% and r&lt;0</text>
</g>
</g>
</svg>
</body></html>
